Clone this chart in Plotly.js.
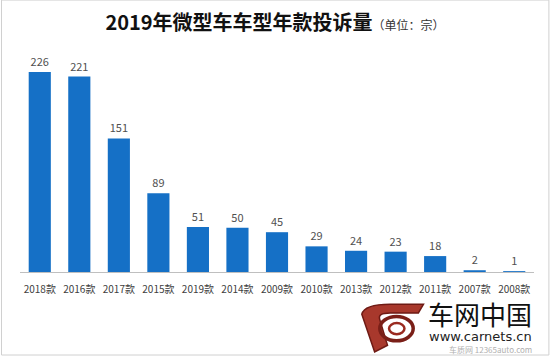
<!DOCTYPE html>
<html><head><meta charset="utf-8">
<script src="https://cdn.plot.ly/plotly-3.0.1.min.js"></script>
<style>html,body{margin:0;padding:0;background:#fff}#c{width:550px;height:356px}</style>
</head><body><div id="c"></div>
<script>
const categories = ["2018款","2016款","2017款","2015款","2019款","2014款","2009款","2010款","2013款","2012款","2011款","2007款","2008款"];
const values = [226,221,151,89,51,50,45,29,24,23,18,2,1];
const titleText = "2019年微型车车型年款投诉量";
const unitText = "（单位：宗）";

const font = "'Noto Sans CJK SC', 'Noto Sans', sans-serif";
const trace = {
  type: "bar", x: categories, y: values,
  marker: {color: "#1570c6"},
  text: values.map(String), textposition: "outside", cliponaxis: false,
  textfont: {family: font, size: 11, color: "#505050"},
  hoverinfo: "none"
};
const layout = {
  width: 550, height: 356,
  margin: {l: 20, r: 16, t: 50, b: 84},
  paper_bgcolor: "#fff", plot_bgcolor: "#fff",
  bargap: 0.44, showlegend: false,
  title: {text: "<b>" + titleText + "</b><span style='font-size:12px;font-weight:normal;color:#333'>" + unitText + "</span>",
          font: {family: font, size: 20, color: "#111"}, x: 0.5, xanchor: "center", y: 0.935, yanchor: "middle"},
  xaxis: {type: "category", showline: true, linecolor: "#bfbfbf", linewidth: 1, ticks: "",
          tickfont: {family: font, size: 10, color: "#404040"}, ticklabelstandoff: 8, fixedrange: true},
  yaxis: {range: [0, 251], visible: false, showgrid: false, zeroline: false, fixedrange: true},
  shapes: [
    {type: "rect", xref: "paper", yref: "paper", x0: -0.036, x1: 1.029, y0: -0.374, y1: 1.225, line: {width: 1, color: "#d0d0d0"}, fillcolor: "rgba(0,0,0,0)"},
    {type: "path", xref: "paper", yref: "paper",
     path: "M 0.69 -0.36 L 0.665 -0.19 Q 0.67 -0.145 0.72 -0.145 L 0.785 -0.145 L 0.775 -0.185 L 0.72 -0.185 Q 0.695 -0.185 0.7 -0.215 L 0.715 -0.33 Z",
     line: {color: "#6e1a14", width: 1.5}, fillcolor: "#a8382c"},
    {type: "circle", xref: "paper", yref: "paper", x0: 0.7, x1: 0.765, y0: -0.31, y1: -0.2,
     line: {color: "#7a1f18", width: 3.5}, fillcolor: "rgba(0,0,0,0)"},
    {type: "circle", xref: "paper", yref: "paper", x0: 0.718, x1: 0.748, y0: -0.28, y1: -0.23,
     line: {color: "#9a2a20", width: 2.5}, fillcolor: "rgba(0,0,0,0)"}
  ],
  annotations: [
    {text: "车网中国", xref: "paper", yref: "paper", x: 1.0, y: -0.185, xanchor: "right", yanchor: "middle",
     showarrow: false, font: {family: font, size: 26, color: "#111"}},
    {text: "www.carnets.cn", xref: "paper", yref: "paper", x: 1.0, y: -0.29, xanchor: "right", yanchor: "middle",
     showarrow: false, font: {family: "'DejaVu Sans', sans-serif", size: 13, color: "#222"}},
    {text: "车质网 12365auto.com", xref: "paper", yref: "paper", x: 1.0, y: -0.351, xanchor: "right", yanchor: "middle",
     showarrow: false, font: {family: font, size: 8, color: "#b0b0b0"}}
  ]
};
Plotly.newPlot("c", [trace], layout, {displayModeBar: false, staticPlot: true});
</script></body></html>
